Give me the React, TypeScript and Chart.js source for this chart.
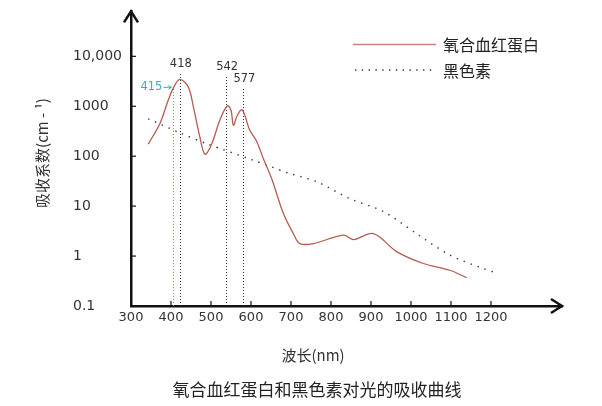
import React, { useEffect, useRef } from "react";
import { Chart, registerables } from "chart.js";

Chart.register(...registerables);

// Oxyhemoglobin absorption (wavelength nm, coefficient cm^-1)
const hbWavelengths = [343, 372, 393, 406, 422, 443, 456, 472, 485, 502, 522, 541, 550, 556, 566, 578, 597, 614, 631, 652, 681, 706, 722, 756, 831, 856, 906, 964, 1031, 1097, 1139];
const hbValues = [174, 447, 1320, 2340, 3470, 2450, 977, 245, 110, 178, 525, 1020, 830, 417, 660, 850, 331, 200, 89, 35, 7.1, 2.8, 1.78, 1.78, 2.63, 2.14, 2.82, 1.23, 0.71, 0.52, 0.37];

// Melanin absorption
const melWavelengths = [343, 422, 489, 606, 697, 764, 847, 931, 1014, 1097, 1181, 1218];
const melValues = [562, 295, 178, 83, 45, 31, 14.1, 7.8, 2.8, 1.05, 0.56, 0.45];

const xTicks = [300, 400, 500, 600, 700, 800, 900, 1000, 1100, 1200];
const yTicks = [0.1, 1, 10, 100, 1000, 10000];
const yTickLabels = ["0.1", "1", "10", "100", "1000", "10,000"];

// Peak marker lines: label, position, top value
const markerLabels = ["415", "418", "542", "577"];
const markerPositions = [406, 422, 538, 581];
const markerTops = [2290, 4790, 4170, 2400];

const seriesNames = ["氧合血红蛋白", "黑色素"];
const xTitle = "波长(nm)";
const yTitle = "吸收系数(cm - ¹)";
const caption = "氧合血红蛋白和黑色素对光的吸收曲线";

const HB_COLOR = "#b35c52";
const MEL_COLOR = "#333333";
const TEAL = "#3fa6cc";
const CJK = '"Noto Sans CJK SC", "Noto Sans", sans-serif';
const NUM = '"DejaVu Sans", sans-serif';

const decor = {
  id: "decor",
  beforeDatasetsDraw(chart: any) {
    const { ctx, chartArea: a, scales } = chart;
    const x = scales.x;
    const y = scales.y;
    ctx.save();
    ctx.lineWidth = 1;
    ctx.setLineDash([1, 2]);
    markerPositions.forEach((m, i) => {
      const px = Math.round(x.getPixelForValue(m)) + 0.5;
      const top = y.getPixelForValue(markerTops[i]);
      ctx.strokeStyle = i === 0 ? TEAL : "#333";
      ctx.beginPath();
      ctx.moveTo(px, a.bottom);
      ctx.lineTo(px, top);
      ctx.stroke();
    });
    ctx.restore();
  },
  afterDraw(chart: any) {
    const { ctx, chartArea: a, scales } = chart;
    const x = scales.x;
    const y = scales.y;
    ctx.save();
    // tick marks (inward)
    ctx.strokeStyle = "#111";
    ctx.lineWidth = 1.2;
    x.ticks.forEach((t: any) => {
      const px = x.getPixelForValue(t.value);
      ctx.beginPath();
      ctx.moveTo(px, a.bottom);
      ctx.lineTo(px, a.bottom - 5);
      ctx.stroke();
    });
    y.ticks.forEach((t: any) => {
      const py = y.getPixelForValue(t.value);
      ctx.beginPath();
      ctx.moveTo(a.left, py);
      ctx.lineTo(a.left + 5, py);
      ctx.stroke();
    });
    // arrow heads
    ctx.lineWidth = 2.5;
    ctx.lineJoin = "miter";
    ctx.beginPath();
    ctx.moveTo(a.left - 7, a.top + 11);
    ctx.lineTo(a.left, a.top);
    ctx.lineTo(a.left + 7, a.top + 11);
    ctx.stroke();
    ctx.beginPath();
    ctx.moveTo(a.right - 11, a.bottom - 7);
    ctx.lineTo(a.right, a.bottom);
    ctx.lineTo(a.right - 11, a.bottom + 7);
    ctx.stroke();

    // marker labels
    ctx.textBaseline = "middle";
    ctx.font = `11.5px ${NUM}`;
    markerPositions.forEach((m, i) => {
      const px = x.getPixelForValue(m);
      const top = y.getPixelForValue(markerTops[i]);
      if (i === 0) {
        ctx.fillStyle = TEAL;
        ctx.textAlign = "right";
        ctx.fillText(markerLabels[i], px - 11, top - 1);
        ctx.strokeStyle = TEAL;
        ctx.lineWidth = 1;
        ctx.setLineDash([]);
        ctx.beginPath();
        ctx.moveTo(px - 10, top - 1);
        ctx.lineTo(px - 2, top - 1);
        ctx.stroke();
        ctx.beginPath();
        ctx.moveTo(px - 5, top - 3);
        ctx.lineTo(px - 2, top - 1);
        ctx.lineTo(px - 5, top + 1);
        ctx.stroke();
      } else {
        ctx.fillStyle = "#333";
        ctx.textAlign = "center";
        ctx.fillText(markerLabels[i], px + 1, top - 8);
      }
    });

    // legend
    ctx.setLineDash([]);
    ctx.strokeStyle = HB_COLOR;
    ctx.globalAlpha = 0.75;
    ctx.lineWidth = 1.6;
    ctx.beginPath();
    ctx.moveTo(353, 44.5);
    ctx.lineTo(436, 44.5);
    ctx.stroke();
    ctx.globalAlpha = 1;
    ctx.strokeStyle = MEL_COLOR;
    ctx.lineWidth = 1.4;
    ctx.setLineDash([1.4, 5.4]);
    ctx.beginPath();
    ctx.moveTo(355, 70);
    ctx.lineTo(436, 70);
    ctx.stroke();
    ctx.setLineDash([]);
    ctx.fillStyle = "#222";
    ctx.textAlign = "left";
    ctx.font = `16px ${CJK}`;
    ctx.fillText(seriesNames[0], 443, 45);
    ctx.fillText(seriesNames[1], 443, 71);

    // titles
    ctx.textAlign = "center";
    ctx.fillStyle = "#333";
    ctx.font = `15px ${CJK}`;
    ctx.fillText(xTitle, 313, 355);
    ctx.save();
    ctx.translate(42, 153);
    ctx.rotate(-Math.PI / 2);
    ctx.fillText(yTitle, 0, 0);
    ctx.restore();
    ctx.fillStyle = "#222";
    ctx.font = `17px ${CJK}`;
    ctx.fillText(caption, 317, 390);
    ctx.restore();
  },
};

export default function App() {
  const ref = useRef<HTMLCanvasElement>(null);
  useEffect(() => {
    if (!ref.current) return;
    const chart = new Chart(ref.current, {
      type: "line",
      data: {
        datasets: [
          {
            label: seriesNames[0],
            data: hbWavelengths.map((w, i) => ({ x: w, y: hbValues[i] })),
            borderColor: HB_COLOR,
            borderWidth: 1.3,
            pointRadius: 0,
            tension: 0.35,
            fill: false,
          },
          {
            label: seriesNames[1],
            data: melWavelengths.map((w, i) => ({ x: w, y: melValues[i] })),
            borderColor: MEL_COLOR,
            borderWidth: 1.4,
            borderDash: [1.4, 6],
            pointRadius: 0,
            tension: 0.3,
            fill: false,
          },
        ],
      },
      options: {
        responsive: false,
        animation: false,
        layout: { padding: { left: 73, top: 11, right: 40, bottom: 0 } },
        plugins: { legend: { display: false }, tooltip: { enabled: false } },
        scales: {
          x: {
            type: "linear",
            min: 300,
            max: 1377.5,
            afterFit: (s: any) => {
              s.height = 100;
            },
            afterBuildTicks: (s: any) => {
              s.ticks = xTicks.map((v) => ({ value: v }));
            },
            grid: { display: true, drawOnChartArea: false, drawTicks: false, color: "rgba(0,0,0,0)" },
            border: { display: true, color: "#111", width: 2.5 },
            ticks: {
              autoSkip: false,
              maxRotation: 0,
              padding: 4,
              color: "#333",
              font: { family: NUM, size: 13 },
              callback: (v: any) => String(v),
            },
          },
          y: {
            type: "logarithmic",
            min: 0.1,
            max: 79433,
            afterFit: (s: any) => {
              s.width = 58;
            },
            afterBuildTicks: (s: any) => {
              s.ticks = yTicks.map((v) => ({ value: v }));
            },
            grid: { display: true, drawOnChartArea: false, drawTicks: false, color: "rgba(0,0,0,0)" },
            border: { display: true, color: "#111", width: 2.5 },
            ticks: {
              autoSkip: false,
              crossAlign: "far",
              color: "#333",
              font: { family: NUM, size: 14 },
              callback: (_v: any, i: number) => yTickLabels[i],
            },
          },
        },
      },
      plugins: [decor],
    } as any);
    return () => chart.destroy();
  }, []);
  return (
    <div style={{ position: "absolute", left: 0, top: 0, width: 602, height: 406, background: "#fff" }}>
      <canvas ref={ref} width={602} height={406} style={{ display: "block" }} />
    </div>
  );
}
